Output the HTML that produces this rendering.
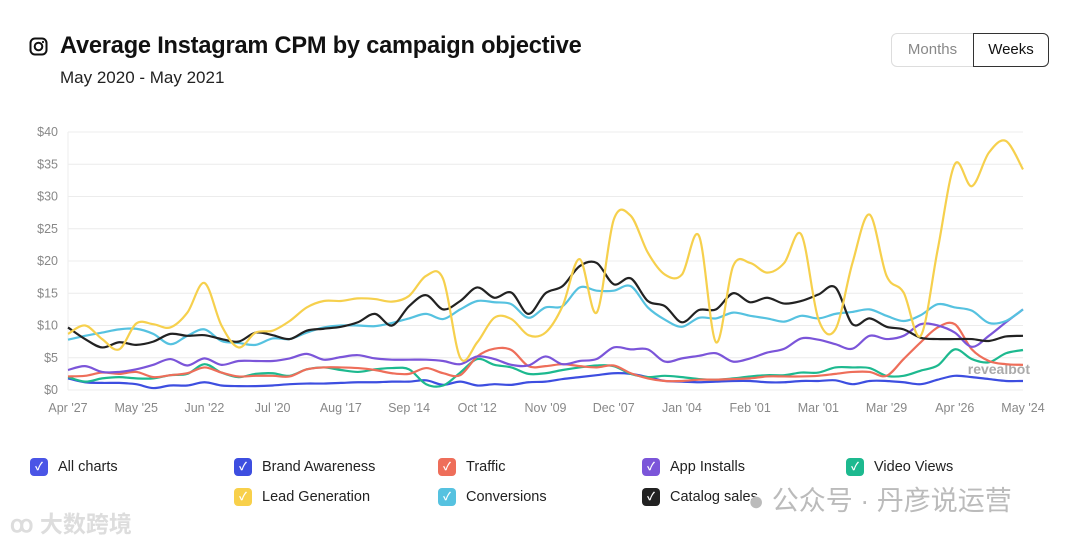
<!DOCTYPE html>
<html><head><meta charset="utf-8">
<style>
body{margin:0;width:1080px;height:540px;background:#fff;font-family:"Liberation Sans","Noto Sans CJK SC",sans-serif;position:relative;overflow:hidden;color:#111}
.abs{position:absolute}
.title{left:60px;top:33px;font-size:23.6px;font-weight:bold;letter-spacing:-0.2px}
.sub{left:60px;top:68px;font-size:17px;color:#222}
.btn{top:33px;height:32px;border:1px solid #ddd;font-size:15px;line-height:32px;text-align:center;color:#888;background:#fff}
.leg{font-size:14.5px;color:#222;display:flex;align-items:center}
.cb{width:18px;height:18px;border-radius:4px;margin-right:10px;color:#fff;font-size:11px;line-height:18px;text-align:center;font-weight:bold}
</style></head><body>
<svg class="abs" style="left:29px;top:37px" width="20" height="20"><rect x="1.5" y="1.5" width="16" height="16" rx="4.5" fill="none" stroke="#111" stroke-width="2"/><circle cx="9.5" cy="9.5" r="3.8" fill="none" stroke="#111" stroke-width="2"/><circle cx="14" cy="5" r="1.1" fill="#111"/></svg>
<div class="abs title">Average Instagram CPM by campaign objective</div>
<div class="abs sub">May 2020 - May 2021</div>
<div class="abs btn" style="left:891px;width:81px;border-radius:6px 0 0 6px">Months</div>
<div class="abs btn" style="left:973px;width:74px;border:1px solid #333;color:#111;border-radius:0 6px 6px 0">Weeks</div>
<svg id="chart" class="abs" style="left:0;top:0" width="1080" height="430"></svg>
<div id="legend"></div>
<div class="abs" style="left:10px;top:505px;font-size:23px;color:#ddd;font-weight:bold">ꝏ 大数跨境</div>
<div class="abs" style="left:748px;top:479px;font-size:27px;color:#bbb">● 公众号 · 丹彦说运营</div>
<script>
const xLabels=["Apr '27","May '25","Jun '22","Jul '20","Aug '17","Sep '14","Oct '12","Nov '09","Dec '07","Jan '04","Feb '01","Mar '01","Mar '29","Apr '26","May '24"];
const yTicks=[0,5,10,15,20,25,30,35,40];
const leadGen=[8.7,10,7.9,6.3,10.3,10.2,9.7,12,16.6,10,6.6,8.9,9.2,10.7,12.8,13.8,13.8,14.2,14.1,13.7,14.6,17.7,17.2,5,7.4,11.2,11,8.5,8.9,13,20.3,12,26.4,27,21.3,17.9,17.9,23.9,7.4,19.2,19.7,18.2,19.7,24.1,11,9.4,19.7,27.2,17.7,15.1,8.4,21.8,35,31.6,36.8,38.6,34.2];
const catalog=[9.7,7.9,6.6,7.4,7,7.5,8.7,8.4,8.5,7.9,7.5,8.9,8.5,7.9,9.2,9.5,9.8,10.5,11.8,10,13,14.7,12.5,13.8,15.9,14.3,15.1,11.8,15,16.1,19.2,19.7,16.4,17.3,13.8,13,10.5,12.4,12.5,15,13.6,14.3,13.4,13.8,14.8,15.9,10.2,11.1,9.8,9.4,8.1,7.9,7.9,7.9,7.6,8.3,8.4];
const conversions=[7.8,8.4,8.9,9.4,9.5,8.7,7.1,8.4,9.4,7.6,7.3,7,8,7.9,8.9,9.7,10,10,9.9,10.4,11.1,11.8,11,12.5,13.8,13.6,13.3,11.2,12.8,13,15.9,15.4,15.4,16.1,12.8,10.9,9.8,11.2,11.1,12,11.5,11.1,10.6,11.5,11.1,11.8,12.1,12.5,11.5,10.7,11.6,13.3,12.8,12.3,10.4,10.7,12.5];
const appInstalls=[3.1,3.7,2.8,2.8,3.2,3.9,4.8,3.8,4.9,3.9,4.5,4.5,4.5,4.9,5.6,4.7,5.1,5.4,4.9,4.7,4.7,4.7,4.5,4,5.2,4.8,3.9,3.8,5.2,4,4.5,4.8,6.6,6.3,6.3,4.4,4.9,5.3,5.7,4.4,4.9,5.8,6.4,8,7.8,7.1,6.4,8.4,7.9,8.4,10.2,10,8.9,6.7,8.4,10.5,12.5];
const traffic=[2.1,2.2,2.7,2.5,2.8,2,2.3,2.6,3.5,2.7,2.1,2.2,2.2,2.1,3.2,3.5,3.5,3.4,3.1,2.6,2.5,3.4,2.6,2.3,5.2,6.4,6.2,3.7,3.7,4,3.7,3.5,3.8,2.6,1.8,1.4,1.4,1.6,1.6,1.7,1.8,2.1,2.1,2.1,2.2,2.5,2.8,2.8,2.2,4.8,7.4,9.7,10.2,6.3,4.5,4,3.9];
const videoViews=[2,1.3,1.8,2,1.8,1.8,2.3,2.5,4,2.7,2,2.5,2.6,2.2,3.2,3.5,3.1,2.8,3.2,3.4,3.2,0.9,0.7,2.7,4.8,3.9,3.5,2.5,2.6,3.1,3.5,3.8,3.7,2.5,2,2.2,2,1.7,1.6,1.8,2.1,2.3,2.3,2.7,2.7,3.5,3.5,3.4,2.2,2.2,3,3.8,6.3,4.8,4.3,5.7,6.2];
const brandAwareness=[1.8,1.2,1.1,1.1,0.9,0.3,0.7,0.7,1.2,0.7,0.6,0.6,0.7,0.9,1,1,1.1,1.2,1.2,1.3,1.3,1.5,0.8,1.3,0.7,0.9,0.8,1.2,1.3,1.7,2,2.3,2.6,2.5,2,1.4,1.3,1.2,1.3,1.4,1.4,1.2,1.2,1.4,1.4,1.5,0.9,1.4,1.4,1.2,0.9,1.6,2.2,2,1.7,1.4,1.4];

const X0=68,X1=1023,Y0=390,Y1=132,N=leadGen.length;
const xs=i=>X0+i*(X1-X0)/(N-1);
const ys=v=>Y0-(v/40)*(Y0-Y1);
const svg=document.getElementById('chart');
const NS='http://www.w3.org/2000/svg';
function mk(t,a){const e=document.createElementNS(NS,t);for(const k in a)e.setAttribute(k,a[k]);svg.appendChild(e);return e;}
yTicks.forEach(v=>{
  const l=mk('line',{x1:X0,x2:X1,y1:ys(v),y2:ys(v),stroke:'#ececec','stroke-width':1});
  
  
  const t=mk('text',{x:58,y:ys(v)+4,'text-anchor':'end','font-size':12.5,fill:'#888'});
  t.textContent='$'+v;
  
  
});
const ax=mk('line',{x1:X0,x2:X0,y1:Y1,y2:Y0,stroke:'#eee'});


xLabels.forEach((s,k)=>{
  const t=mk('text',{x:xs(k*4),y:412,'text-anchor':'middle','font-size':12.5,fill:'#888'});
  t.textContent=s;
  
  
});
const wm=mk('text',{x:1030,y:374,'text-anchor':'end','font-size':14,'font-weight':'bold',fill:'#aaa'});
wm.textContent='revealbot';


function path(d){
  const p=d.map((v,i)=>[xs(i),ys(v)]);
  let s='M'+p[0][0]+','+p[0][1];
  for(let i=0;i<p.length-1;i++){
    const a=p[Math.max(0,i-1)],b=p[i],c=p[i+1],e=p[Math.min(p.length-1,i+2)];
    s+=' C'+(b[0]+(c[0]-a[0])/6)+','+(b[1]+(c[1]-a[1])/6)+' '+(c[0]-(e[0]-b[0])/6)+','+(c[1]-(e[1]-b[1])/6)+' '+c[0]+','+c[1];
  }
  return s;
}
const series=[
 ['brand-awareness-line',brandAwareness,'#3d4ee0'],
 ['video-views-line',videoViews,'#1db98f'],
 ['traffic-line',traffic,'#ee6e5a'],
 ['app-installs-line',appInstalls,'#7b55d9'],
 ['conversions-line',conversions,'#56c2e0'],
 ['catalog-sales-line',catalog,'#222222'],
 ['lead-generation-line',leadGen,'#f6d04d']
];
series.forEach(s=>{
  const p=mk('path',{d:path(s[1]),fill:'none',stroke:s[2],'stroke-width':2.2});
  
  
});
const legendItems=[["All charts","#4a55e6",30,467],["Brand Awareness","#3d4ee0",234,467],["Traffic","#ee6e5a",438,467],["App Installs","#7b55d9",642,467],["Video Views","#1db98f",846,467],["Lead Generation","#f8d04a",234,497],["Conversions","#56c2e0",438,497],["Catalog sales","#222222",642,497]];
const lg=document.getElementById('legend');
legendItems.forEach(it=>{
  const d=document.createElement('div');
  d.className='abs leg';
  d.style.left=it[2]+'px';d.style.top=(it[3]-9)+'px';
  d.innerHTML='<div class="cb" style="background:'+it[1]+'">✓</div>'+it[0];
  
  
  lg.appendChild(d);
});
</script>
</body></html>
